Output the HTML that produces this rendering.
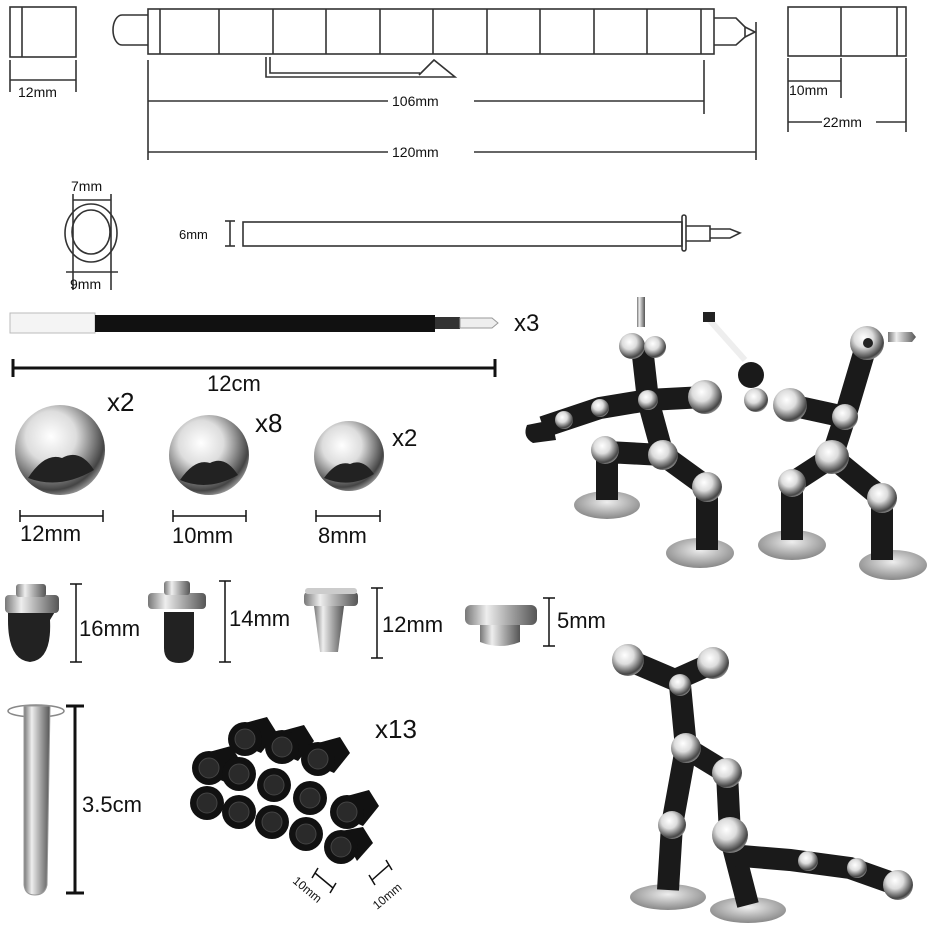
<!DOCTYPE html>
<html><head><meta charset="utf-8"><style>
html,body{margin:0;padding:0;background:#fff;}
svg{display:block;}
text{font-family:"Liberation Sans",sans-serif;fill:#111;}
</style></head><body>
<svg width="931" height="931" viewBox="0 0 931 931" xmlns="http://www.w3.org/2000/svg">
<defs>
<radialGradient id="ball" cx="0.4" cy="0.35" r="0.7">
<stop offset="0" stop-color="#fff"/><stop offset="0.4" stop-color="#ddd"/><stop offset="0.65" stop-color="#888"/><stop offset="0.85" stop-color="#444"/><stop offset="1" stop-color="#aaa"/></radialGradient>
<linearGradient id="metal" x1="0" x2="1"><stop offset="0" stop-color="#777"/><stop offset="0.3" stop-color="#eee"/><stop offset="0.6" stop-color="#aaa"/><stop offset="1" stop-color="#555"/></linearGradient>
<radialGradient id="disc" cx="0.5" cy="0.4" r="0.6"><stop offset="0" stop-color="#eee"/><stop offset="1" stop-color="#888"/></radialGradient>
</defs>
<g stroke="#333" stroke-width="1.6" fill="none">
<rect x="10" y="7" width="66" height="50"/><line x1="22" y1="7" x2="22" y2="57"/>
<line x1="10" y1="60" x2="10" y2="92"/><line x1="76" y1="60" x2="76" y2="92"/><line x1="10" y1="80" x2="76" y2="80"/>
<path d="M148 15 H122 A9 15 0 0 0 122 45 H148"/>
<rect x="148" y="9" width="566" height="45"/>
<line x1="160" y1="9" x2="160" y2="54"/>
<line x1="219" y1="9" x2="219" y2="54"/><line x1="273" y1="9" x2="273" y2="54"/><line x1="326" y1="9" x2="326" y2="54"/><line x1="380" y1="9" x2="380" y2="54"/><line x1="433" y1="9" x2="433" y2="54"/><line x1="487" y1="9" x2="487" y2="54"/><line x1="540" y1="9" x2="540" y2="54"/><line x1="594" y1="9" x2="594" y2="54"/><line x1="647" y1="9" x2="647" y2="54"/><line x1="701" y1="9" x2="701" y2="54"/>
<path d="M714 18 H736 L745 27 V37 L736 45 H714"/><path d="M745 27 L755 32 L745 37"/>
<path d="M266 57 V77 H447 L455 77 L434 60 L419 75"/><path d="M270 57 V73 H420"/>
<line x1="148" y1="60" x2="148" y2="160"/><line x1="704" y1="60" x2="704" y2="114"/><line x1="756" y1="22" x2="756" y2="160"/>
<line x1="148" y1="101" x2="388" y2="101"/><line x1="474" y1="101" x2="704" y2="101"/>
<line x1="148" y1="152" x2="388" y2="152"/><line x1="474" y1="152" x2="756" y2="152"/>
<rect x="788" y="7" width="118" height="49"/><line x1="841" y1="7" x2="841" y2="56"/><line x1="897" y1="7" x2="897" y2="56"/>
<line x1="788" y1="58" x2="788" y2="132"/><line x1="841" y1="58" x2="841" y2="98"/><line x1="906" y1="58" x2="906" y2="132"/>
<line x1="788" y1="81" x2="841" y2="81"/>
<line x1="788" y1="122" x2="822" y2="122"/><line x1="876" y1="122" x2="906" y2="122"/>
<line x1="73" y1="194" x2="73" y2="290"/><line x1="111" y1="194" x2="111" y2="290"/><line x1="73" y1="200" x2="111" y2="200"/><line x1="66" y1="272" x2="118" y2="272"/>
<ellipse cx="91" cy="233" rx="26" ry="29"/><ellipse cx="91" cy="232" rx="19" ry="22"/>
<line x1="225" y1="221" x2="235" y2="221"/><line x1="225" y1="246" x2="235" y2="246"/><line x1="230" y1="221" x2="230" y2="246"/>
<rect x="243" y="222" width="439" height="24"/>
<rect x="682" y="215" width="4" height="36" rx="2"/>
<path d="M686 226 H710 V241 H686"/><path d="M710 229 H730 L740 233 L730 238 H710"/>
</g>
<g font-size="14">
<text x="18" y="97">12mm</text>
<text x="392" y="106">106mm</text>
<text x="392" y="157">120mm</text>
<text x="789" y="95">10mm</text>
<text x="823" y="127">22mm</text>
<text x="71" y="191">7mm</text>
<text x="70" y="289">9mm</text>
<text x="179" y="239" font-size="13">6mm</text>
</g>
<rect x="10" y="313" width="85" height="20" fill="#f4f4f4" stroke="#bbb"/>
<rect x="95" y="315" width="340" height="17" fill="#111"/>
<path d="M435 317 H460 V329 H435 Z" fill="#333"/>
<path d="M460 318 H492 L498 323 L492 328 H460 Z" fill="#eee" stroke="#999"/>
<text x="514" y="331" font-size="24">x3</text>
<g stroke="#111" stroke-width="3"><line x1="13" y1="368" x2="495" y2="368"/><line x1="13" y1="359" x2="13" y2="377"/><line x1="495" y1="359" x2="495" y2="377"/></g>
<text x="207" y="391" font-size="22">12cm</text>
<circle cx="60" cy="450" r="45" fill="url(#ball)"/>
<path d="M28 478 Q45 452 62 458 Q80 448 94 470 Q60 490 28 478 Z" fill="#222"/>
<circle cx="209" cy="455" r="40" fill="url(#ball)"/>
<path d="M180 480 Q195 458 210 463 Q225 455 238 475 Q208 492 180 480 Z" fill="#222"/>
<circle cx="349" cy="456" r="35" fill="url(#ball)"/>
<path d="M324 478 Q337 460 350 464 Q363 458 374 474 Q350 489 324 478 Z" fill="#222"/>
<text x="107" y="411" font-size="26">x2</text>
<text x="255" y="432" font-size="26">x8</text>
<text x="392" y="446" font-size="24">x2</text>
<g stroke="#111" stroke-width="1.5"><line x1="20" y1="516" x2="103" y2="516"/><line x1="20" y1="510" x2="20" y2="522"/><line x1="103" y1="510" x2="103" y2="522"/>
<line x1="173" y1="516" x2="246" y2="516"/><line x1="173" y1="510" x2="173" y2="522"/><line x1="246" y1="510" x2="246" y2="522"/>
<line x1="316" y1="516" x2="380" y2="516"/><line x1="316" y1="510" x2="316" y2="522"/><line x1="380" y1="510" x2="380" y2="522"/></g>
<g font-size="22"><text x="20" y="541">12mm</text><text x="172" y="543">10mm</text><text x="318" y="543">8mm</text></g>
<path d="M8 610 H56 L50 620 Q52 660 30 662 Q8 660 8 620 Z" fill="#222"/>
<rect x="5" y="595" width="54" height="18" rx="4" fill="url(#metal)"/><rect x="16" y="584" width="30" height="13" rx="3" fill="url(#metal)"/>
<path d="M164 612 H194 V648 Q194 663 179 663 Q164 663 164 648 Z" fill="#222"/>
<rect x="148" y="593" width="58" height="16" rx="4" fill="url(#metal)"/><rect x="164" y="581" width="26" height="14" rx="3" fill="url(#metal)"/>
<rect x="304" y="592" width="54" height="14" rx="4" fill="url(#metal)"/>
<path d="M314 606 H344 L338 652 H320 Z" fill="url(#metal)"/>
<rect x="305" y="588" width="52" height="6" rx="3" fill="#ccc"/>
<rect x="465" y="605" width="72" height="20" rx="6" fill="url(#metal)"/>
<path d="M480 625 H520 V642 Q500 650 480 642 Z" fill="url(#metal)"/>
<g stroke="#111" stroke-width="1.5">
<line x1="76" y1="584" x2="76" y2="662"/><line x1="70" y1="584" x2="82" y2="584"/><line x1="70" y1="662" x2="82" y2="662"/>
<line x1="225" y1="581" x2="225" y2="662"/><line x1="219" y1="581" x2="231" y2="581"/><line x1="219" y1="662" x2="231" y2="662"/>
<line x1="377" y1="588" x2="377" y2="658"/><line x1="371" y1="588" x2="383" y2="588"/><line x1="371" y1="658" x2="383" y2="658"/>
<line x1="549" y1="598" x2="549" y2="646"/><line x1="543" y1="598" x2="555" y2="598"/><line x1="543" y1="646" x2="555" y2="646"/></g>
<g font-size="22"><text x="79" y="636">16mm</text><text x="229" y="626">14mm</text><text x="382" y="632">12mm</text><text x="557" y="628">5mm</text></g>
<ellipse cx="36" cy="711" rx="28" ry="6" fill="none" stroke="#888" stroke-width="1.5"/>
<path d="M24 706 H50 L47 885 Q45 895 35 895 Q25 895 24 885 Z" fill="url(#metal)" stroke="#999"/>
<g stroke="#111" stroke-width="3"><line x1="75" y1="706" x2="75" y2="893"/><line x1="66" y1="706" x2="84" y2="706"/><line x1="66" y1="893" x2="84" y2="893"/></g>
<text x="82" y="812" font-size="22">3.5cm</text>
<g fill="#111">
<g transform="translate(245,739)"><path d="M-16 0 L0 -16 L22 -22 L32 -6 L16 14 Z"/><circle r="17"/><circle r="10" fill="#2a2a2a" stroke="#444"/></g>
<g transform="translate(282,747)"><path d="M-16 0 L0 -16 L22 -22 L32 -6 L16 14 Z"/><circle r="17"/><circle r="10" fill="#2a2a2a" stroke="#444"/></g>
<g transform="translate(318,759)"><path d="M-16 0 L0 -16 L22 -22 L32 -6 L16 14 Z"/><circle r="17"/><circle r="10" fill="#2a2a2a" stroke="#444"/></g>
<g transform="translate(209,768)"><path d="M-16 0 L0 -16 L22 -22 L32 -6 L16 14 Z"/><circle r="17"/><circle r="10" fill="#2a2a2a" stroke="#444"/></g>
<g transform="translate(239,774)"><circle r="17"/><circle r="10" fill="#2a2a2a" stroke="#444"/></g>
<g transform="translate(274,785)"><circle r="17"/><circle r="10" fill="#2a2a2a" stroke="#444"/></g>
<g transform="translate(310,798)"><circle r="17"/><circle r="10" fill="#2a2a2a" stroke="#444"/></g>
<g transform="translate(347,812)"><path d="M-16 0 L0 -16 L22 -22 L32 -6 L16 14 Z"/><circle r="17"/><circle r="10" fill="#2a2a2a" stroke="#444"/></g>
<g transform="translate(207,803)"><circle r="17"/><circle r="10" fill="#2a2a2a" stroke="#444"/></g>
<g transform="translate(239,812)"><circle r="17"/><circle r="10" fill="#2a2a2a" stroke="#444"/></g>
<g transform="translate(272,822)"><circle r="17"/><circle r="10" fill="#2a2a2a" stroke="#444"/></g>
<g transform="translate(306,834)"><circle r="17"/><circle r="10" fill="#2a2a2a" stroke="#444"/></g>
<g transform="translate(341,847)"><path d="M0 -16 L22 -20 L32 -4 L16 14 Z"/><circle r="17"/><circle r="10" fill="#2a2a2a" stroke="#444"/></g>
</g>
<text x="375" y="738" font-size="26">x13</text>
<g stroke="#111" stroke-width="1.5"><line x1="315" y1="873" x2="333" y2="888"/><line x1="312" y1="878" x2="318" y2="868"/><line x1="330" y1="893" x2="336" y2="883"/>
<line x1="372" y1="880" x2="389" y2="865"/><line x1="369" y1="875" x2="375" y2="885"/><line x1="386" y1="860" x2="392" y2="870"/></g>
<text x="0" y="0" font-size="12" transform="translate(292,882) rotate(40)">10mm</text>
<text x="0" y="0" font-size="12" transform="translate(377,910) rotate(-40)">10mm</text>
<g>
<ellipse cx="607" cy="505" rx="33" ry="14" fill="url(#disc)"/>
<ellipse cx="700" cy="553" rx="34" ry="15" fill="url(#disc)"/>
<ellipse cx="792" cy="545" rx="34" ry="15" fill="url(#disc)"/>
<ellipse cx="893" cy="565" rx="34" ry="15" fill="url(#disc)"/>
<g stroke="#1a1a1a" stroke-width="22" fill="none">
<path d="M607 500 V452 L663 455 L707 487 V550"/>
<path d="M663 455 L648 400 L642 347"/>
<path d="M543 427 L600 408 L648 400 L705 397"/>
<path d="M792 540 V483 L832 457 L882 498 V560"/>
<path d="M832 457 L845 417 L867 343"/>
<path d="M790 405 L845 417"/>
</g>
<g fill="url(#ball)">
<circle cx="605" cy="450" r="14"/><circle cx="663" cy="455" r="15"/><circle cx="707" cy="487" r="15"/><circle cx="648" cy="400" r="10"/><circle cx="705" cy="397" r="17"/><circle cx="600" cy="408" r="9"/><circle cx="564" cy="420" r="9"/>
<circle cx="792" cy="483" r="14"/><circle cx="832" cy="457" r="17"/><circle cx="882" cy="498" r="15"/><circle cx="845" cy="417" r="13"/><circle cx="790" cy="405" r="17"/><circle cx="756" cy="400" r="12"/>
<circle cx="632" cy="346" r="13"/><circle cx="655" cy="347" r="11"/><circle cx="867" cy="343" r="17"/>
</g>
<path d="M527 425 L552 420 L556 440 L533 443 Q522 437 527 425 Z" fill="#1a1a1a"/>
<circle cx="751" cy="375" r="13" fill="#1a1a1a"/>
<rect x="637" y="297" width="8" height="30" fill="url(#metal)"/>
<path d="M888 332 H912 L916 337 L912 342 H888 Z" fill="url(#metal)"/>
<path d="M705 315 L745 360" stroke="#eee" stroke-width="6"/><rect x="703" y="312" width="12" height="10" fill="#222"/>
<circle cx="868" cy="343" r="5" fill="#222"/>
</g>
<ellipse cx="668" cy="897" rx="38" ry="13" fill="url(#disc)"/>
<ellipse cx="748" cy="910" rx="38" ry="13" fill="url(#disc)"/>
<g stroke="#1a1a1a" stroke-width="22" fill="none">
<path d="M628 660 L675 680 L713 663"/><path d="M680 685 L686 748 L727 773 L730 835 L748 905"/>
<path d="M686 748 L672 825 L668 890"/><path d="M730 855 L790 860 L850 868 L898 885"/>
</g>
<g fill="url(#ball)">
<circle cx="628" cy="660" r="16"/><circle cx="713" cy="663" r="16"/><circle cx="680" cy="685" r="11"/><circle cx="686" cy="748" r="15"/><circle cx="727" cy="773" r="15"/><circle cx="672" cy="825" r="14"/><circle cx="730" cy="835" r="18"/><circle cx="808" cy="861" r="10"/><circle cx="857" cy="868" r="10"/><circle cx="898" cy="885" r="15"/>
</g>
</svg>
</body></html>
